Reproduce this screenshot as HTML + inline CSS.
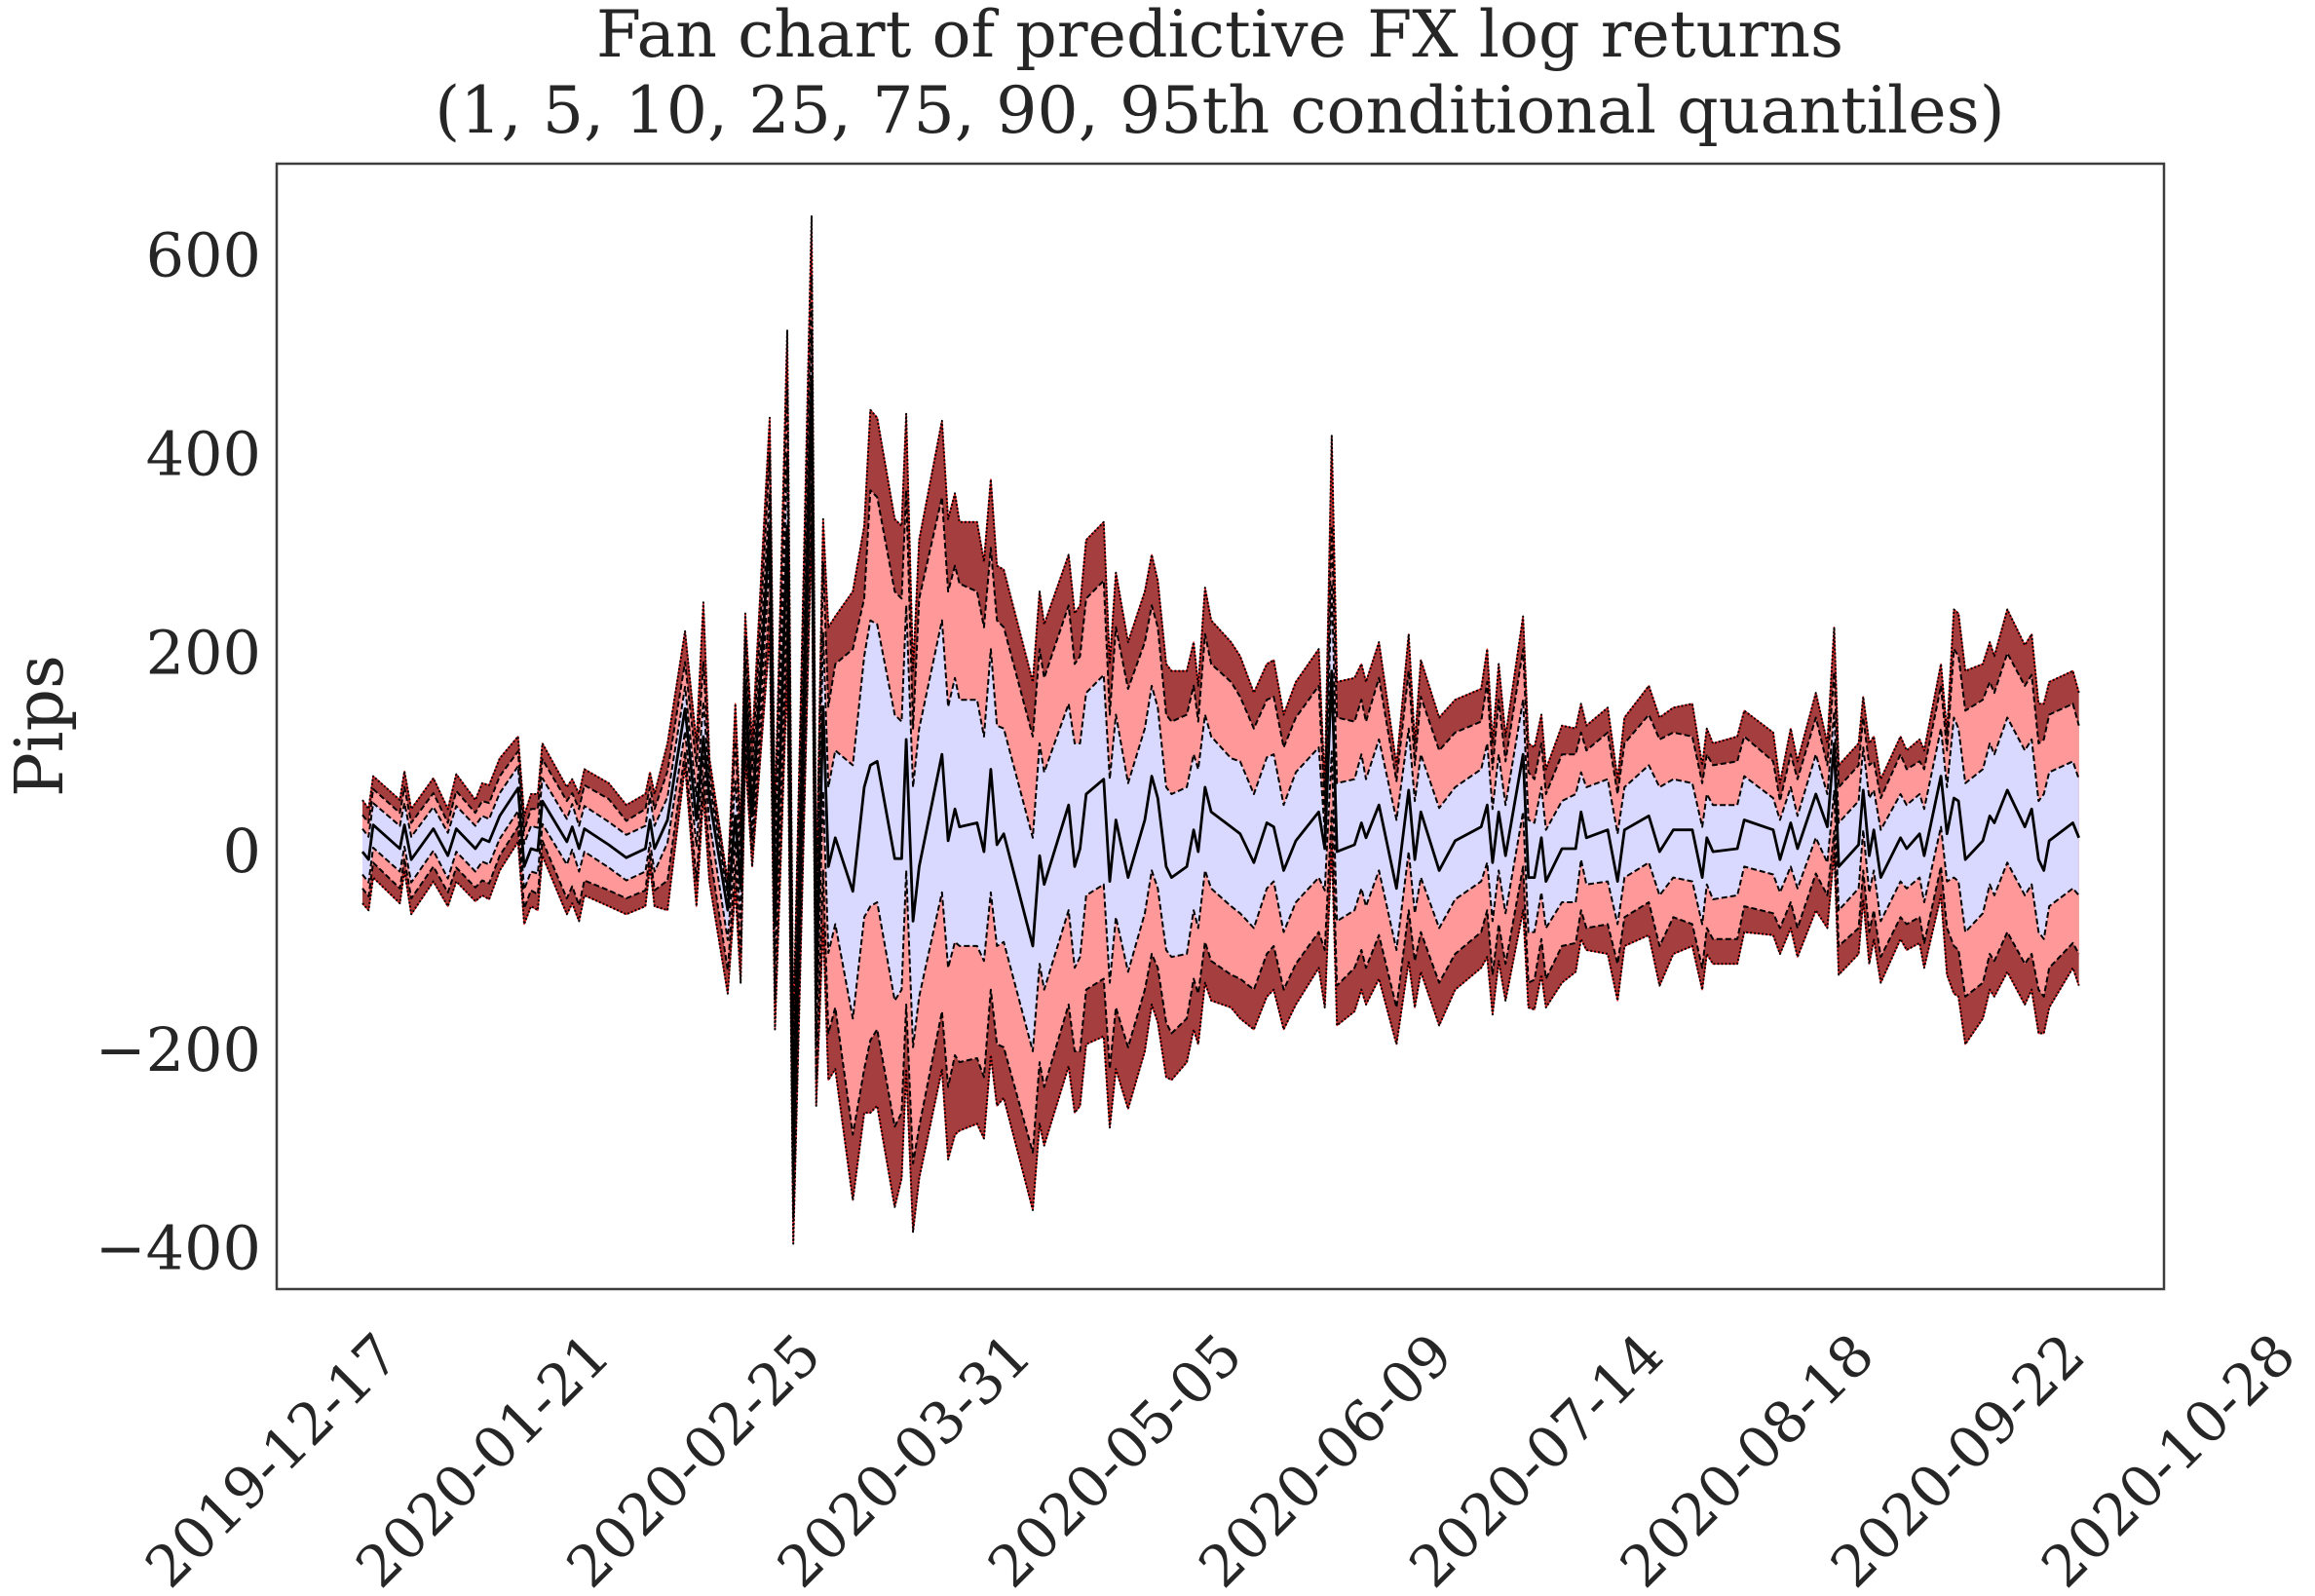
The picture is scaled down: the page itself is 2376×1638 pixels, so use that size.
<!DOCTYPE html>
<html>
<head>
<meta charset="utf-8">
<style>
  html, body { margin: 0; padding: 0; background: #fff; }
  svg { display: block; }
  text { font-family: "DejaVu Serif", "Liberation Serif", serif; fill: #262626; }
</style>
</head>
<body>
<svg id="chart" width="2376" height="1638" viewBox="0 0 2376 1638" xmlns="http://www.w3.org/2000/svg">
  <rect x="0" y="0" width="2376" height="1638" fill="#ffffff"/>
  <text x="1252" y="58" font-size="66.5" text-anchor="middle">Fan chart of predictive FX log returns</text>
  <text x="1252" y="136" font-size="66.5" text-anchor="middle">(1, 5, 10, 25, 75, 90, 95th conditional quantiles)</text>
  <text transform="translate(64,745) rotate(-90)" font-size="68" text-anchor="middle">Pips</text>
  <g id="plot"></g>
  <g id="yticks"></g>
  <g id="xticks"></g>
  <rect x="284" y="168" width="1937" height="1155" fill="none" stroke="#3d3d3d" stroke-width="2.5"/>
</svg>
<script>
const t = [0,0.8,1.4,4.9,5.5,6.4,9.3,11.2,12.3,14.8,
15.7,16.6,18.0,20.4,21.2,22.1,23.0,23.6,26.8,27.5,
28.4,29.1,32.3,34.6,37.1,37.7,38.3,40.0,42.3,43.8,
44.7,45.5,47.9,48.9,49.6,50.2,51.1,53.4,54.1,55.7,
56.5,58.9,59.5,60.4,61.1,62.0,64.3,65.8,66.6,67.5,
69.8,70.7,71.3,72.2,73.0,76.0,76.8,77.7,78.3,80.6,
81.5,82.4,83.2,84.1,87.9,88.8,89.4,92.6,93.4,94.1,
94.9,97.2,98.0,98.8,100.4,102.6,103.5,104.3,105.4,106.1,
108.1,109.0,109.6,110.5,111.3,113.9,115.1,116.9,118.6,119.5,
120.8,122.4,125.4,126.2,127.1,127.8,130.1,131.0,131.6,133.3,
135.6,137.2,138.0,138.8,141.2,143.3,146.7,147.5,148.2,149.0,
149.9,152.2,152.9,153.7,154.6,155.2,157.3,159.1,159.8,160.5,
163.3,164.6,165.5,168.7,170.1,171.9,174.4,175.7,176.3,177.1,
180.3,181.2,185.0,185.9,187.3,188.2,190.6,192.1,193.0,193.6,
196.2,196.8,197.6,198.2,199.1,201.7,202.5,204.2,204.8,207.0,
207.8,208.7,209.3,210.2,212.5,213.4,214.0,215.7,218.0,218.9,
219.8,220.5,221.2,224.3,225.1];

const qHiOuter = [51,42,75,51,80,42,73,42,77,51,
68,66,93,115,35,57,57,108,64,72,
57,82,68,46,57,79,57,108,221,108,
250,93,-31,148,20,239,108,436,35,524,
-184,639,-38,334,225,236,261,327,444,436,
334,327,440,181,313,433,334,360,331,331,
291,374,287,283,170,261,228,298,239,247,
313,331,188,280,210,261,298,272,188,181,
181,210,166,265,232,210,196,159,188,192,
137,170,203,64,418,170,174,188,170,210,
86,218,108,192,134,152,163,203,108,188,
115,236,108,104,137,82,126,123,148,126,
144,72,134,166,134,144,148,86,123,108,
115,141,119,68,123,90,159,108,225,86,
108,155,108,115,72,115,101,112,101,188,
119,243,239,181,188,210,196,243,207,218,
148,148,170,181,159];

const qHiMid = [36,28,62,38,64,28,58,28,60,38,
50,48,75,100,20,42,42,92,50,58,
42,66,52,30,42,64,42,80,190,85,
190,80,-38,110,5,215,80,400,10,470,
-210,580,-70,290,145,188,203,254,363,356,
261,254,363,123,254,356,261,287,269,261,
225,305,232,225,115,203,174,247,188,196,
254,272,137,225,163,210,247,225,137,130,
137,166,130,218,188,170,155,123,152,155,
104,134,166,40,327,134,130,152,130,174,
70,181,86,155,101,119,130,170,82,152,
90,203,79,72,108,57,97,97,119,101,
119,57,108,137,112,119,115,68,97,86,
90,115,90,50,97,72,134,86,180,64,
86,134,86,90,53,97,82,90,82,166,
101,203,196,141,152,170,159,199,166,177,
108,112,137,148,126];

const qHiInner = [22,14,48,25,48,14,44,18,45,25,
35,32,58,85,7,25,23,73,32,47,
25,45,29,16,25,54,25,54,165,55,
150,68,-45,70,-15,190,55,360,-20,400,
-250,520,-110,220,64,101,86,196,232,228,
137,130,247,64,123,232,145,174,152,152,
115,203,126,123,13,108,79,148,108,108,
159,177,72,137,68,123,166,144,64,57,
64,97,82,137,115,93,90,57,94,97,
46,79,104,20,269,68,72,97,72,112,
31,123,50,97,43,64,82,108,42,97,
46,152,31,28,64,21,50,57,79,64,
72,17,64,86,64,72,68,24,57,46,
46,75,53,31,64,35,97,57,140,28,
50,104,53,61,21,57,46,57,42,123,
64,134,123,68,82,108,97,134,101,112,
50,57,79,90,72];

const qMedian = [-1,-9,26,2,26,-9,22,-5,22,2,
12,9,35,63,-16,2,0,50,9,24,
2,22,6,-7,2,31,2,31,143,31,
115,53,-60,35,-38,166,35,327,-74,327,
-293,473,-147,145,-16,13,-41,64,86,90,
-8,-8,112,-71,-16,97,10,42,24,28,
-1,82,6,17,-96,-5,-34,46,-16,2,
57,72,-31,31,-27,31,75,53,-16,-27,
-16,21,-1,64,39,24,17,-12,28,24,
-20,10,39,2,181,-1,6,28,13,46,
-38,61,-9,39,-20,10,24,46,-12,39,
-5,97,-27,-27,13,-31,2,2,39,13,
21,-31,21,35,-1,21,21,-27,13,-1,
2,31,21,-9,28,2,57,24,108,-16,
6,61,-5,21,-27,13,2,17,-5,75,
17,53,50,-9,10,35,28,61,24,42,
-9,-20,10,28,13];

const qLoInner = [-24,-32,3,-21,4,-32,0,-28,-1,-21,
-11,-14,12,40,-39,-21,-23,27,-14,1,
-21,-1,-17,-30,-21,8,-21,8,120,5,
95,30,-90,10,-70,140,15,290,-110,280,
-330,420,-190,60,-103,-74,-169,-67,-56,-52,
-151,-140,-20,-198,-147,-42,-118,-92,-96,-96,
-111,-42,-96,-92,-202,-114,-140,-60,-118,-107,
-45,-34,-133,-67,-122,-63,-20,-38,-100,-107,
-104,-60,-78,-20,-38,-56,-63,-78,-38,-31,
-82,-52,-27,-40,100,-71,-60,-38,-56,-20,
-100,-1,-63,-27,-78,-49,-31,-12,-71,-20,
-63,39,-82,-82,-42,-78,-52,-52,-9,-34,
-31,-74,-27,-12,-45,-27,-31,-74,-34,-49,
-45,-16,-24,-42,-16,-38,13,-12,60,-60,
-38,21,-42,-20,-71,-31,-38,-27,-52,24,
-31,-27,-31,-82,-63,-34,-45,-12,-45,-34,
-82,-89,-56,-38,-45];

const qLoMid = [-38,-46,-12,-38,-8,-48,-16,-42,-17,-37,
-30,-33,-5,24,-58,-40,-44,10,-48,-36,
-55,-30,-40,-48,-40,-2,-40,-30,100,-30,
75,0,-120,-15,-105,120,0,250,-150,230,
-370,370,-230,-20,-184,-158,-286,-220,-191,-180,
-278,-264,-155,-315,-278,-162,-238,-206,-213,-209,
-228,-140,-195,-198,-304,-213,-238,-155,-202,-202,
-140,-129,-220,-158,-198,-140,-104,-118,-173,-184,
-169,-129,-144,-92,-111,-125,-129,-140,-104,-96,
-140,-114,-82,-100,40,-136,-118,-100,-118,-85,
-158,-60,-111,-82,-133,-104,-82,-60,-125,-74,
-114,-16,-133,-130,-89,-129,-96,-93,-60,-78,
-74,-114,-67,-52,-96,-67,-74,-118,-78,-89,
-89,-56,-63,-78,-52,-78,-23,-45,20,-96,
-78,-20,-82,-60,-107,-67,-74,-67,-93,-16,
-78,-96,-100,-147,-133,-104,-111,-82,-114,-104,
-140,-147,-118,-93,-104];

const qLoOuter = [-53,-60,-27,-53,-20,-64,-31,-56,-31,-51,
-45,-49,-20,9,-74,-56,-60,-5,-64,-53,
-71,-45,-56,-64,-56,-16,-56,-60,86,-56,
57,-31,-144,-38,-133,97,-16,218,-180,181,
-396,327,-257,-74,-231,-220,-352,-264,-264,-257,
-359,-330,-220,-384,-330,-220,-311,-286,-282,-275,
-290,-206,-257,-249,-362,-275,-297,-217,-264,-257,
-195,-187,-279,-220,-260,-202,-155,-173,-228,-231,
-213,-180,-195,-133,-151,-158,-169,-180,-147,-140,
-180,-155,-118,-158,6,-176,-162,-140,-155,-129,
-195,-111,-158,-122,-176,-140,-118,-107,-165,-111,
-151,-60,-158,-160,-125,-158,-133,-122,-89,-100,
-104,-151,-96,-85,-136,-104,-96,-140,-104,-114,
-114,-82,-85,-104,-78,-107,-60,-78,-1,-125,
-104,-49,-114,-89,-133,-89,-100,-93,-118,-45,
-125,-144,-147,-195,-169,-140,-147,-122,-155,-140,
-184,-184,-158,-118,-136];

const yTickValues = [600, 400, 200, 0, -200, -400];
const yTickLabels = ["600", "400", "200", "0", "\u2212200", "\u2212400"];
const xTickLabels = ["2019-12-17","2020-01-21","2020-02-25","2020-03-31","2020-05-05","2020-06-09","2020-07-14","2020-08-18","2020-09-22","2020-10-28"];

const NS = "http://www.w3.org/2000/svg";
const X0 = 284, X1 = 2221, Y0 = 168, Y1 = 1323;
const tMin = -11.25, tMax = 236.25;
const vMin = -441.6, vMax = 692;
function xs(v) { return X0 + (v - tMin) / (tMax - tMin) * (X1 - X0); }
function ys(v) { return Y1 - (v - vMin) / (vMax - vMin) * (Y1 - Y0); }

function linePts(arr) { return t.map((d, i) => xs(d).toFixed(1) + "," + ys(arr[i]).toFixed(1)); }
function bandPts(hi, lo) {
  const a = linePts(hi);
  const b = linePts(lo).reverse();
  return a.concat(b).join(" ");
}

const plot = document.getElementById("plot");

const outerBand = document.createElementNS(NS, "polygon");
outerBand.setAttribute("points", bandPts(qHiOuter, qLoOuter));
outerBand.setAttribute("fill", "#a53e3e");


plot.appendChild(outerBand);

const midBand = document.createElementNS(NS, "polygon");
midBand.setAttribute("points", bandPts(qHiMid, qLoMid));
midBand.setAttribute("fill", "#ff9999");


plot.appendChild(midBand);

const innerBand = document.createElementNS(NS, "polygon");
innerBand.setAttribute("points", bandPts(qHiInner, qLoInner));
innerBand.setAttribute("fill", "#d9d9ff");


plot.appendChild(innerBand);

function addLine(arr, name, color, width, dash) {
  const p = document.createElementNS(NS, "polyline");
  p.setAttribute("points", linePts(arr).join(" "));
  p.setAttribute("fill", "none");
  p.setAttribute("stroke", color);
  p.setAttribute("stroke-width", width);
  p.setAttribute("stroke-linejoin", "round");
  if (dash) p.setAttribute("stroke-dasharray", dash);
  
  
  plot.appendChild(p);
}
addLine(qHiOuter, "upper-outer-edge-red", "#e02020", 1.5, null);
addLine(qLoOuter, "lower-outer-edge-red", "#e02020", 1.5, null);
addLine(qHiOuter, "upper-outer-quantile-line", "#000", 2, "2,2");
addLine(qLoOuter, "lower-outer-quantile-line", "#000", 2, "2,2");
addLine(qHiMid, "upper-mid-quantile-line", "#000", 2, "6,3");
addLine(qLoMid, "lower-mid-quantile-line", "#000", 2, "6,3");
addLine(qHiInner, "upper-inner-quantile-line", "#000", 2, "6,3");
addLine(qLoInner, "lower-inner-quantile-line", "#000", 2, "6,3");
addLine(qMedian, "median-line", "#000", 2.8, null);

const yt = document.getElementById("yticks");
yTickValues.forEach((v, i) => {
  const tx = document.createElementNS(NS, "text");
  tx.setAttribute("x", 268);
  tx.setAttribute("y", (ys(v) + 22).toFixed(1));
  tx.setAttribute("font-size", "62");
  tx.setAttribute("text-anchor", "end");
  tx.textContent = yTickLabels[i];
  
  
  yt.appendChild(tx);
});

const xt = document.getElementById("xticks");
const xStep = (2359 - 413) / (xTickLabels.length - 1);
xTickLabels.forEach((lab, i) => {
  const x = 413 + i * xStep, y = 1394;
  const tx = document.createElementNS(NS, "text");
  tx.setAttribute("x", x.toFixed(1));
  tx.setAttribute("y", y);
  tx.setAttribute("font-size", "58.5");
  tx.setAttribute("text-anchor", "end");
  tx.setAttribute("transform", "rotate(-45 " + x.toFixed(1) + " " + y + ")");
  tx.textContent = lab;
  
  
  xt.appendChild(tx);
});
</script>
</body>
</html>
